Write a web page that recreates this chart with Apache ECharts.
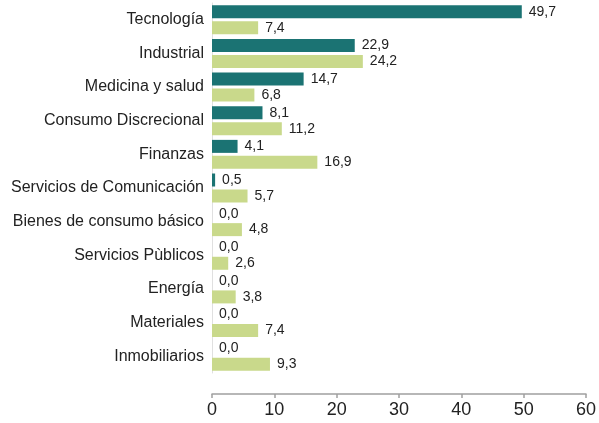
<!DOCTYPE html>
<html>
<head>
<meta charset="utf-8">
<script src="https://cdn.jsdelivr.net/npm/echarts@6/dist/echarts.min.js"></script>
<style>
  html, body { margin: 0; padding: 0; background: #fff; }
  #chart { width: 599px; height: 423px; }
</style>
</head>
<body>
<div id="chart"></div>
<script>
const categories = [
  'Tecnología', 'Industrial', 'Medicina y salud', 'Consumo Discrecional', 'Finanzas',
  'Servicios de Comunicación', 'Bienes de consumo básico', 'Servicios Pùblicos',
  'Energía', 'Materiales', 'Inmobiliarios'
]
const seriesA = [49.7, 22.9, 14.7, 8.1, 4.1, 0.5, 0.0, 0.0, 0.0, 0.0, 0.0]
const seriesB = [7.4, 24.2, 6.8, 11.2, 16.9, 5.7, 4.8, 2.6, 3.8, 7.4, 9.3]
const xTicks = [0, 10, 20, 30, 40, 50, 60]

const fontFamily = 'Liberation Sans, Arial, sans-serif'
const fmt = (p) => p.value.toFixed(1).replace('.', ',')

const labelStyle = {
  show: true,
  position: 'right',
  distance: 7,
  color: '#222',
  fontSize: 14,
  fontFamily,
  formatter: fmt,
}

const chart = echarts.init(document.getElementById('chart'), undefined, { renderer: 'canvas' })
chart.setOption({
  backgroundColor: '#fff',
  animation: false,
  grid: { left: 212, right: 11, top: 3, bottom: 50 },
  xAxis: {
    type: 'value',
    min: xTicks[0],
    max: xTicks[xTicks.length - 1],
    interval: 10,
    offset: 21,
    axisLine: { show: true, lineStyle: { color: '#a0a0a0', width: 1.5 } },
    axisTick: { show: true, length: 4, lineStyle: { color: '#a0a0a0', width: 1.5 } },
    splitLine: { show: false },
    axisLabel: { color: '#222', fontSize: 18, margin: 7, fontFamily },
  },
  yAxis: {
    type: 'category',
    data: categories,
    inverse: true,
    axisLine: { show: true, lineStyle: { color: '#e0e0e0', width: 1 } },
    axisTick: { show: false },
    axisLabel: { color: '#222', fontSize: 16, margin: 8, fontFamily },
  },
  series: [
    {
      type: 'bar',
      data: seriesA,
      barWidth: 13,
      barGap: '23%',
      itemStyle: { color: '#1b7373' },
      label: labelStyle,
    },
    {
      type: 'bar',
      data: seriesB,
      barWidth: 13,
      barGap: '23%',
      itemStyle: { color: '#c9d98b' },
      label: labelStyle,
    },
  ],
})
</script>
</body>
</html>
